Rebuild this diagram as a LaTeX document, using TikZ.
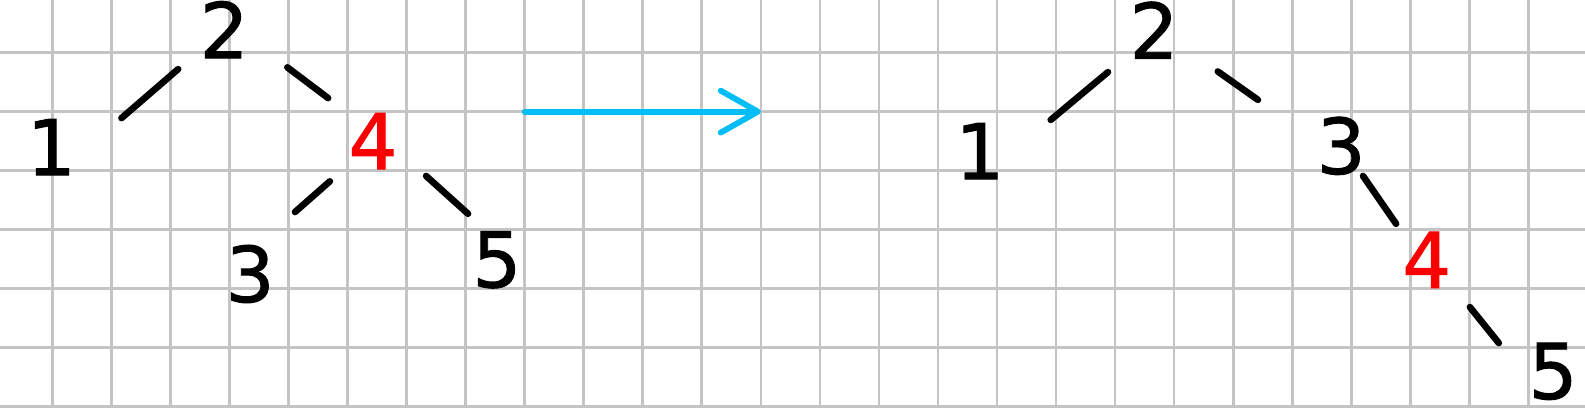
\documentclass[tikz,border=0pt]{standalone}
\usepackage{fontspec}
\setmainfont{DejaVu Sans}
\newfontfamily\handfont[FakeBold=1.2]{DejaVu Sans}
\usepackage{xcolor}
\usetikzlibrary{arrows.meta}
\definecolor{gridgray}{RGB}{196,196,196}
\definecolor{arrowblue}{RGB}{0,190,245}
\definecolor{hotred}{RGB}{250,0,0}
\tikzset{
  digit/.style={inner sep=0pt, font=\handfont\fontsize{37}{40}\selectfont},
  hot/.style={digit, text=hotred},
  edge/.style={line width=3.2pt, line cap=round},
  gridline/.style={draw=gridgray, line width=1.3pt},
  arrow/.style={draw=arrowblue, line width=2.8pt, line cap=round,
    -{Straight Barb[round, length=6.3mm, width=7.1mm]}}
}
\begin{document}
\begin{tikzpicture}
  \useasboundingbox (-0.8875,0.891) rectangle (25.96,-6.003);
  \clip (-0.8875,0.891) rectangle (25.96,-6.003);
  \fill[white] (-0.8875,0.891) rectangle (25.96,-6.003);
  \draw[gridline] (-1,-7) grid (27,1);

  % before the rotation
  \node[digit] (l2) at (2.91,0.39) {2};
  \node[digit] (l1) at (-0.02,-1.60) {1};
  \node[hot]   (l4) at (5.43,-1.50) {4};
  \node[digit] (l3) at (3.35,-3.75) {3};
  \node[digit] (l5) at (7.53,-3.51) {5};
  \draw[edge] ([shift={(-0.78,-0.67)}]l2.center) -- ([shift={(1.19,0.49)}]l1.center);
  \draw[edge] ([shift={(1.07,-0.64)}]l2.center) -- ([shift={(-0.76,0.73)}]l4.center);
  \draw[edge] ([shift={(-0.73,-0.68)}]l4.center) -- ([shift={(0.76,1.05)}]l3.center);
  \draw[edge] ([shift={(0.90,-0.59)}]l4.center) -- ([shift={(-0.49,0.78)}]l5.center);

  \coordinate (rotA) at (8,-1);
  \coordinate (rotB) at (12,-1);
  \draw[arrow] (rotA) -- (rotB);

  % after the rotation
  \node[digit] (r2) at (18.66,0.38) {2};
  \node[digit] (r1) at (15.71,-1.67) {1};
  \node[digit] (r3) at (21.83,-1.58) {3};
  \node[hot]   (r4) at (23.28,-3.51) {4};
  \node[digit] (r5) at (25.42,-5.40) {5};
  \draw[edge] ([shift={(-0.78,-0.71)}]r2.center) -- ([shift={(1.20,0.53)}]r1.center);
  \draw[edge] ([shift={(1.08,-0.70)}]r2.center) -- ([shift={(-1.41,0.78)}]r3.center);
  \draw[edge] ([shift={(0.37,-0.51)}]r3.center) -- ([shift={(-0.52,0.61)}]r4.center);
  \draw[edge] ([shift={(0.73,-0.80)}]r4.center) -- ([shift={(-0.92,0.48)}]r5.center);
\end{tikzpicture}
\end{document}
